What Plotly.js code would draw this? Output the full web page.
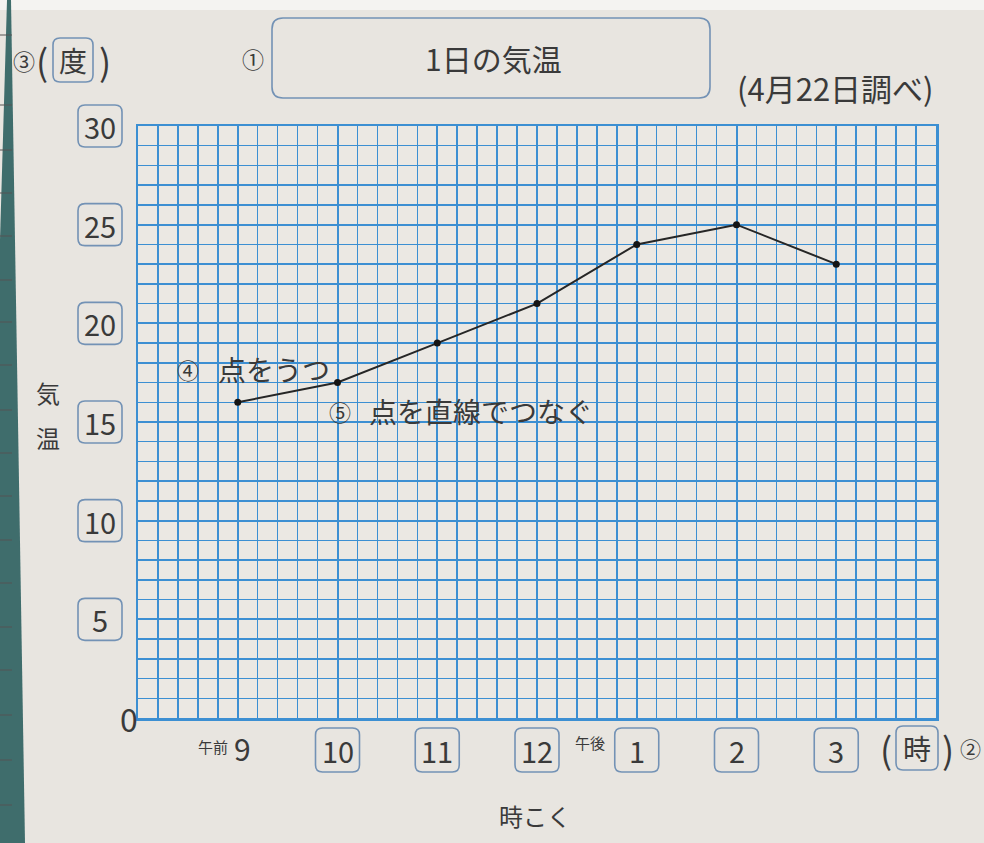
<!DOCTYPE html>
<html>
<head>
<meta charset="utf-8">
<script src="https://cdn.plot.ly/plotly-3.0.1.min.js"></script>
<style>html,body{margin:0;padding:0;background:#e8e5e0;}#chart{width:984px;height:843px;}</style>
</head>
<body>
<div id="chart"></div>
<script>
// ---- data ----
const hours = [9, 10, 11, 12, 13, 14, 15];           // 午前9時 〜 午後3時
const temps = [16, 17, 19, 21, 24, 25, 23];          // 気温（度）
const hourLabels = ['9', '10', '11', '12', '1', '2', '3'];
const hourPrefix = ['午前', '', '', '', '午後', '', ''];
const yTicks = [30, 25, 20, 15, 10, 5];
const titleText = '1日の気温';
const dateText = '(4月22日調べ)';
const note1 = ['④', '点をうつ'];
const note2 = ['⑤', '点を直線でつなぐ'];
const xAxisTitle = '時こく';
const yAxisTitle = ['気', '温'];
const yUnit = '度';
const xUnit = '時';
const xRange = [8, 16];
const yRange = [0, 30];

// ---- layout helpers ----
const FW = 984, FH = 843, L = 138, R = 48, T = 126, B = 125;
const PW = FW - L - R, PH = FH - T - B;
const fx = px => (px - L) / PW;
const fy = py => (FH - B - py) / PH;
const yFrac = v => (v - yRange[0]) / (yRange[1] - yRange[0]);   // same scale as the y axis
const FONT = '"Noto Sans CJK JP", "Noto Sans", sans-serif';
const INK = '#3a3a3a';
const BOXC = '#7392b5';
const GRID = '#3c8fd2';

function rr(w, h, r) {
  const x0 = -w / 2, x1 = w / 2, y0 = -h / 2, y1 = h / 2;
  return `M ${x0 + r},${y0} L ${x1 - r},${y0} Q ${x1},${y0} ${x1},${y0 + r} L ${x1},${y1 - r} Q ${x1},${y1} ${x1 - r},${y1} L ${x0 + r},${y1} Q ${x0},${y1} ${x0},${y1 - r} L ${x0},${y0 + r} Q ${x0},${y0} ${x0 + r},${y0} Z`;
}
function boxShape(xref, xa, yref, ya, w, h, r) {
  return {type: 'path', xref: xref, yref: yref, xsizemode: 'pixel', ysizemode: 'pixel',
    xanchor: xa, yanchor: ya, path: rr(w, h, r), line: {color: BOXC, width: 1.6}, layer: 'above'};
}
function ann(text, xref, x, yref, y, size, extra) {
  return Object.assign({text: text, xref: xref, x: x, yref: yref, y: y, showarrow: false,
    xanchor: 'center', yanchor: 'middle',
    font: {family: FONT, size: size, color: INK}}, extra || {});
}

const shapes = [];
const annotations = [];

// page decorations (photo edge, binding strip)
shapes.push({type: 'rect', xref: 'paper', yref: 'paper', x0: fx(0), x1: fx(FW), y0: fy(0), y1: fy(10),
  fillcolor: '#f4f3f1', line: {width: 0}, layer: 'below'});
shapes.push({type: 'path', xref: 'paper', yref: 'paper', layer: 'above',
  path: `M ${fx(7)},${fy(0)} L ${fx(11)},${fy(0)} L ${fx(25)},${fy(FH)} L ${fx(0)},${fy(FH)} L ${fx(0)},${fy(240)} Z`,
  fillcolor: '#3f6d6c', line: {width: 0}});
[35, 105, 150, 193, 236, 280, 322, 365, 410, 453, 496, 540, 583, 627, 670, 715, 760, 805].forEach(py => {
  shapes.push({type: 'line', xref: 'paper', yref: 'paper', x0: fx(0), x1: fx(12), y0: fy(py), y1: fy(py),
    line: {color: '#555', width: 1}, layer: 'above'});
});

// title box
shapes.push(boxShape('paper', fx(491), 'paper', fy(58), 438, 80, 11));
annotations.push(ann(titleText, 'paper', fx(493), 'paper', fy(58), 30));
annotations.push(ann('①', 'paper', fx(253), 'paper', fy(58), 22));
annotations.push(ann(dateText, 'paper', fx(835), 'paper', fy(88), 31));

// y unit ③(度)
annotations.push(ann('③', 'paper', fx(24), 'paper', fy(60), 22));
annotations.push(ann('(', 'paper', fx(42), 'paper', fy(60), 36));
shapes.push(boxShape('paper', fx(73), 'paper', fy(60), 40, 44, 7));
annotations.push(ann(yUnit, 'paper', fx(73), 'paper', fy(60), 28));
annotations.push(ann(')', 'paper', fx(105), 'paper', fy(60), 36));

// y tick labels in boxes
yTicks.forEach(v => {
  shapes.push(boxShape('paper', fx(100), 'paper', yFrac(v), 44, 42, 7));
  annotations.push(ann(String(v), 'paper', fx(100), 'y', v, 29));
});
annotations.push(ann('0', 'paper', fx(129), 'y', 0, 32));

// y axis title
annotations.push(ann(yAxisTitle[0], 'paper', fx(48), 'paper', fy(392), 24));
annotations.push(ann(yAxisTitle[1], 'paper', fx(48), 'paper', fy(438), 24));

// x tick labels
hours.forEach((h, i) => {
  if (hourPrefix[i] === '午前') {
    annotations.push(ann(hourLabels[i], 'x', h, 'paper', fy(748), 30, {xshift: 5}));
    annotations.push(ann(hourPrefix[i], 'x', h, 'paper', fy(746), 15, {xshift: -25}));
  } else {
    shapes.push(boxShape('x', h, 'paper', fy(750), 44, 44, 7));
    annotations.push(ann(hourLabels[i], 'x', h, 'paper', fy(750), 29));
    if (hourPrefix[i]) {
      annotations.push(ann(hourPrefix[i], 'x', h, 'paper', fy(742), 15, {xshift: -47}));
    }
  }
});
// x unit (時)②
annotations.push(ann('(', 'paper', fx(886), 'paper', fy(748), 36));
shapes.push(boxShape('paper', fx(917), 'paper', fy(748), 42, 44, 7));
annotations.push(ann(xUnit, 'paper', fx(917), 'paper', fy(748), 28));
annotations.push(ann(')', 'paper', fx(948), 'paper', fy(748), 36));
annotations.push(ann('②', 'paper', fx(970), 'paper', fy(748), 21));

// x axis title
annotations.push(ann(xAxisTitle, 'paper', fx(535), 'paper', fy(815), 24));

// notes on the grid
annotations.push(ann(note1[0], 'paper', fx(188), 'paper', fy(369), 22));
annotations.push(ann(note1[1], 'paper', fx(274), 'paper', fy(369), 28));
annotations.push(ann(note2[0], 'paper', fx(340), 'paper', fy(411), 22));
annotations.push(ann(note2[1], 'paper', fx(481), 'paper', fy(411), 28));

const trace = {
  x: hours, y: temps, type: 'scatter', mode: 'lines+markers',
  line: {color: '#262626', width: 2},
  marker: {color: '#151515', size: 7},
  hoverinfo: 'x+y'
};

const axisCommon = {
  showgrid: true, gridcolor: GRID, gridwidth: 2,
  showline: true, mirror: true, linecolor: GRID, linewidth: 2.5,
  zeroline: false, showticklabels: false, ticks: '', fixedrange: true
};

const layout = {
  width: FW, height: FH,
  margin: {l: L, r: R, t: T, b: B, pad: 0},
  paper_bgcolor: '#e8e5e0', plot_bgcolor: '#ebe8e3',
  showlegend: false,
  xaxis: Object.assign({}, axisCommon, {range: xRange, tick0: 8, dtick: 1,
    minor: {dtick: 0.2, showgrid: true, gridcolor: GRID, gridwidth: 1.5, ticks: ''}}),
  yaxis: Object.assign({}, axisCommon, {range: yRange, tick0: 0, dtick: 5,
    minor: {dtick: 1, showgrid: true, gridcolor: GRID, gridwidth: 1.5, ticks: ''}}),
  shapes: shapes,
  annotations: annotations
};

Plotly.newPlot('chart', [trace], layout, {displayModeBar: false, staticPlot: true});
</script>
</body>
</html>
